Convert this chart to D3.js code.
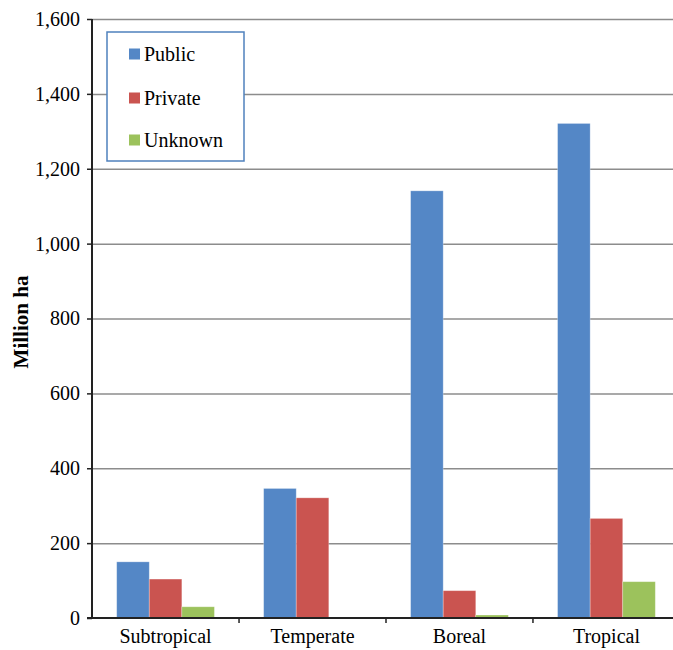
<!DOCTYPE html>
<html>
<head>
<meta charset="utf-8">
<script src="https://cdn.jsdelivr.net/npm/d3@7"></script>
<style>
  body { margin: 0; background: #fff; }
  text { font-family: "Liberation Serif", "Times New Roman", serif; fill: #000; }
</style>
</head>
<body>
<div id="chart"></div>
<script>
// data
const categories = ["Subtropical", "Temperate", "Boreal", "Tropical"];
const seriesNames = ["Public", "Private", "Unknown"];
const publicVals = [150, 346, 1141, 1321];
const privateVals = [104, 321, 73, 266];
const unknownVals = [30, 0, 8, 97];
const yTicks = [0, 200, 400, 600, 800, 1000, 1200, 1400, 1600];
const colors = ["#5487C6", "#CA5450", "#9CC25C"];

const seriesVals = [publicVals, privateVals, unknownVals];

// dimensions
const W = 673, H = 650;
const margin = { top: 19, left: 92 };
const plotRight = 680; // plot runs off the right edge like the original
const plotBottom = 618;

const svg = d3.select('#chart')
    .append('svg')
    .attr('width', W)
    .attr('height', H);

const xScale = d3.scaleBand()
    .domain(categories)
    .range([margin.left, plotRight])
    .paddingInner(0.335)
    .paddingOuter(0.168);

const xSub = d3.scaleBand()
    .domain(seriesNames)
    .range([0, xScale.bandwidth()]);

const yScale = d3.scaleLinear()
    .domain([0, 1600])
    .range([plotBottom, margin.top]);

// gridlines
const grid = svg.append('g')
    .attr('transform', `translate(${margin.left},0)`)
    .call(d3.axisLeft(yScale).tickValues(yTicks.filter(d => d > 0)).tickSize(-(plotRight - margin.left)).tickFormat(''));
grid.select('.domain').remove();
grid.selectAll('line').attr('stroke', '#8c8c8c').attr('stroke-width', 1.5);

// bars
const groups = svg.append('g').attr('id', 'bars')
    .selectAll('g')
    .data(categories)
    .enter()
    .append('g')
    .attr('transform', d => `translate(${xScale(d)},0)`);

groups.selectAll('rect')
    .data((c, ci) => seriesNames.map((s, si) => ({ s: s, si: si, v: seriesVals[si][ci] })))
    .enter()
    .filter(d => d.v > 0)
    .append('rect')
    .attr('x', d => xSub(d.s))
    .attr('y', d => yScale(d.v))
    .attr('width', xSub.bandwidth())
    .attr('height', d => plotBottom - yScale(d.v))
    .attr('fill', d => colors[d.si])
    .attr('stroke', '#ffffff')
    .attr('stroke-opacity', 0.35)
    .attr('stroke-width', 0.8);

// y axis
const yAxisGroup = svg.append('g')
    .attr('transform', `translate(${margin.left},0)`)
    .call(d3.axisLeft(yScale).tickValues(yTicks).tickSize(5).tickPadding(7).tickFormat(d3.format(',')));
yAxisGroup.select('.domain').attr('stroke', '#222').attr('stroke-width', 2)
    .attr('d', `M0,${margin.top}V${plotBottom}`);
yAxisGroup.selectAll('.tick line').attr('stroke', '#222').attr('stroke-width', 1.5);
yAxisGroup.selectAll('.tick text')
    .style('font-family', '"Liberation Serif", serif')
    .style('font-size', '20px')
    .attr('fill', '#000');

// x axis
const xAxisGroup = svg.append('g')
    .attr('transform', `translate(0,${plotBottom})`)
    .call(d3.axisBottom(xScale).tickSize(0).tickPadding(11));
xAxisGroup.select('.domain').attr('stroke', '#222').attr('stroke-width', 2)
    .attr('d', `M${margin.left - 5},0H${plotRight}`);
xAxisGroup.selectAll('.tick text')
    .style('font-family', '"Liberation Serif", serif')
    .style('font-size', '20px')
    .attr('fill', '#000');

// category boundary ticks
const step = xScale.step();
const boundaries = categories.slice(1).map(c => xScale(c) - xScale.paddingInner() * step / 2);
xAxisGroup.selectAll('.bnd')
    .data(boundaries)
    .enter()
    .append('line')
    .attr('x1', d => d).attr('x2', d => d)
    .attr('y1', 0).attr('y2', 5)
    .attr('stroke', '#222').attr('stroke-width', 1.5);

// y title
svg.append('text')
    .attr('transform', `translate(28,322) rotate(-90)`)
    .attr('text-anchor', 'middle')
    .style('font-size', '21px')
    .style('font-weight', 'bold')
    .text('Million ha');

// legend
const legend = svg.append('g').attr('transform', 'translate(107,32)');
legend.append('rect')
    .attr('width', 137).attr('height', 129)
    .attr('fill', '#fff')
    .attr('stroke', '#4F81BD')
    .attr('stroke-width', 1.5);
const rowY = [22, 66, 108];
const items = legend.selectAll('.item')
    .data(seriesNames)
    .enter()
    .append('g')
    .attr('transform', (d, i) => `translate(22,${rowY[i]})`);
items.append('rect')
    .attr('x', 0).attr('y', -5.5)
    .attr('width', 11).attr('height', 11)
    .attr('fill', (d, i) => colors[i]);
items.append('text')
    .attr('x', 15).attr('y', 0)
    .attr('dy', '0.35em')
    .style('font-size', '20px')
    .text(d => d);
</script>
</body>
</html>
